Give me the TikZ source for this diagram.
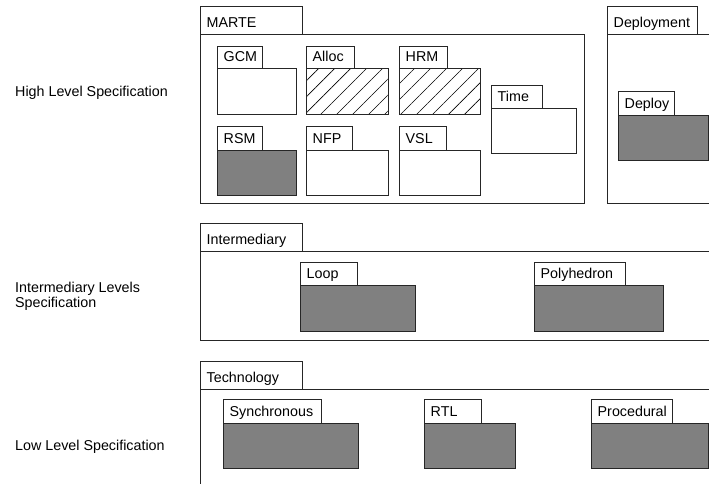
\documentclass[tikz,border=0pt]{standalone}
\usepackage{fontspec}
\setmainfont{Liberation Sans}
\usetikzlibrary{patterns.meta}
\begin{document}
\begin{tikzpicture}[x=1pt,y=-1pt,
  frame/.style={draw=black!85,line width=0.8pt,inner sep=0pt,outer sep=0pt,anchor=north west},
  tabbox/.style={frame,fill=white},
  plain/.style={fill=white},
  solid/.style={fill=black!50},
  hatched/.style={fill=white,pattern={Lines[angle=45,distance=11.3pt,line width=0.6pt]}},
  lbl/.style={inner sep=0pt,anchor=base west,font=\fontsize{14.3}{16}\selectfont},
  side/.style={inner sep=0pt,anchor=base west,align=left,font=\fontsize{14.3}{15.5}\selectfont}]
\useasboundingbox (0,0) rectangle (709,483);
\clip (0,0) rectangle (709,483);
\fill[white] (0,0) rectangle (709,483);

% package symbol: name, left, tab top, tab right, body top, body right, body bottom, label, body style
\newcommand\pkgbox[9]{%
  \node[tabbox,minimum width={(#4-#2)*1pt},minimum height={(#5-#3)*1pt}] (#1-tab) at (#2,#3) {};
  \node[frame,#9,minimum width={(#6-#2)*1pt},minimum height={(#7-#5)*1pt}] (#1) at (#2,#5) {};
  \node[lbl,xshift=6.5pt,yshift=7pt] (#1-lbl) at (#1-tab.south west) {#8};
}

% level captions
\node[side] (high) at (15,96) {High Level Specification};
\node[side] (mid) at (15,307.5) {Intermediary Levels\\Specification};
\node[side] (low) at (15,450) {Low Level Specification};

% high level
\pkgbox{marte}{200}{6}{302}{34}{584}{203}{MARTE}{plain}
\pkgbox{gcm}{217}{46}{262}{68}{296}{114}{GCM}{plain}
\pkgbox{alloc}{306}{46}{354}{68}{388}{114}{Alloc}{hatched}
\pkgbox{hrm}{399}{46}{447}{68}{480}{114}{HRM}{hatched}
\pkgbox{time}{491}{85}{542}{108}{576}{153}{Time}{plain}
\pkgbox{rsm}{217}{126}{262}{150}{296}{195}{RSM}{solid}
\pkgbox{nfp}{306}{126}{352}{150}{388}{195}{NFP}{plain}
\pkgbox{vsl}{399}{126}{446}{150}{480}{195}{VSL}{plain}

\pkgbox{deployment}{607}{6}{697}{34}{725}{203}{Deployment}{plain}
\pkgbox{deploy}{618}{91}{674}{115}{708}{160}{Deploy}{solid}

% intermediary level
\pkgbox{intermediary}{200}{223}{302}{251}{725}{340}{Intermediary}{plain}
\pkgbox{loop}{300}{262}{357}{285}{415}{331}{Loop}{solid}
\pkgbox{polyhedron}{534}{262}{625}{285}{663}{331}{Polyhedron}{solid}

% low level
\pkgbox{technology}{200}{361}{302}{389}{725}{500}{Technology}{plain}
\pkgbox{synchronous}{223}{399}{321}{423}{358}{468}{Synchronous}{solid}
\pkgbox{rtl}{424}{399}{481}{423}{515}{468}{RTL}{solid}
\pkgbox{procedural}{591}{399}{672}{423}{708}{468}{Procedural}{solid}
\end{tikzpicture}
\end{document}
